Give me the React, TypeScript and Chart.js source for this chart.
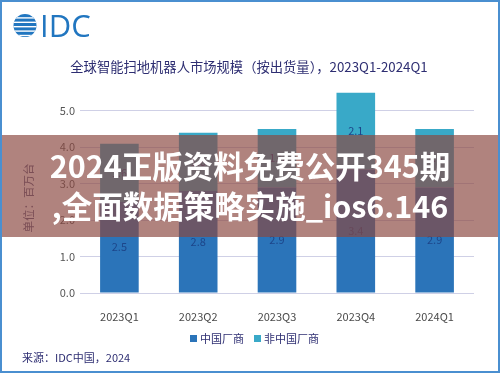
import React, { useEffect, useRef } from "react";
import { Chart, registerables } from "chart.js";

Chart.register(...registerables);

const categories = ["2023Q1", "2023Q2", "2023Q3", "2023Q4", "2024Q1"];
const chinaVendors = [2.5, 2.8, 2.9, 3.4, 2.9];
const nonChinaVendors = [1.6, 1.6, 1.6, 2.1, 1.6];
const yTicks = [0, 1, 2, 3, 4, 5];
const seriesNames = ["中国厂商", "非中国厂商"];
const seriesColors = ["#2b74b9", "#39a9c8"];
const titleText = "全球智能扫地机器人市场规模（按出货量），2023Q1-2024Q1";
const yTitle = "单位：百万台";
const sourceText = "来源：IDC中国，2024";
const overlayLines = ["2024正版资料免费公开345期", ",全面数据策略实施_ios6.146"];

const FONT = '"Noto Sans CJK SC", "Noto Sans", sans-serif';
const NAVY = "#2e2e72";

const decorPlugin = {
  id: "decor",
  beforeDraw(chart: any) {
    const ctx = chart.ctx as CanvasRenderingContext2D;
    ctx.save();
    ctx.fillStyle = "#ffffff";
    ctx.fillRect(0, 0, chart.width, chart.height);
    // IDC logo globe
    ctx.save();
    ctx.beginPath();
    ctx.arc(25, 25.5, 11.5, 0, Math.PI * 2);
    ctx.clip();
    ctx.fillStyle = "#2176c0";
    ctx.fillRect(12, 13, 27, 26);
    ctx.fillStyle = "#ffffff";
    for (let i = 0; i < 5; i++) {
      ctx.fillRect(12, 17.2 + i * 4.4, 27, 1.4);
    }
    ctx.restore();
    ctx.fillStyle = "#2176c0";
    ctx.font = '31px "Open Sans", sans-serif';
    ctx.textAlign = "left";
    ctx.textBaseline = "alphabetic";
    ctx.fillText("IDC", 40, 37);
    // Title
    ctx.fillStyle = NAVY;
    ctx.font = `13.3px ${FONT}`;
    ctx.textAlign = "center";
    ctx.textBaseline = "middle";
    ctx.fillText(titleText, 249, 67);
    // Y title
    ctx.save();
    ctx.translate(29, 198);
    ctx.rotate(-Math.PI / 2);
    ctx.fillStyle = "#5a5a80";
    ctx.font = `11.5px ${FONT}`;
    ctx.fillText(yTitle, 0, 0);
    ctx.restore();
    // Legend
    ctx.font = `11px ${FONT}`;
    ctx.textAlign = "left";
    ctx.textBaseline = "middle";
    const lx = [190, 254];
    seriesNames.forEach((n, i) => {
      ctx.fillStyle = seriesColors[i];
      ctx.fillRect(lx[i], 335, 7, 7);
      ctx.fillStyle = NAVY;
      ctx.fillText(n, lx[i] + 10, 338.5);
    });
    // Source
    ctx.fillStyle = NAVY;
    ctx.fillText(sourceText, 22, 358);
    ctx.restore();
  },
  afterDatasetsDraw(chart: any) {
    const ctx = chart.ctx as CanvasRenderingContext2D;
    ctx.save();
    ctx.fillStyle = "#1d468a";
    ctx.font = `11px ${FONT}`;
    ctx.textAlign = "center";
    ctx.textBaseline = "middle";
    chart.data.datasets.forEach((ds: any, di: number) => {
      const meta = chart.getDatasetMeta(di);
      meta.data.forEach((el: any, i: number) => {
        const p = el.getProps(["x", "y", "base"], true);
        ctx.fillText(Number(ds.data[i]).toFixed(1), p.x, (p.y + p.base) / 2);
      });
    });
    ctx.restore();
  },
  afterDraw(chart: any) {
    const ctx = chart.ctx as CanvasRenderingContext2D;
    ctx.save();
    ctx.fillStyle = "rgba(139,72,65,0.68)";
    ctx.fillRect(0, 135, chart.width, 102);
    ctx.fillStyle = "#ffffff";
    ctx.font = `bold 30.5px ${FONT}`;
    ctx.textAlign = "center";
    ctx.textBaseline = "middle";
    ctx.fillText(overlayLines[0], 250, 166);
    ctx.fillText(overlayLines[1], 250, 206);
    // border
    ctx.strokeStyle = "#4a8fd0";
    ctx.lineWidth = 2;
    ctx.strokeRect(1, 1, chart.width - 2, chart.height - 2);
    ctx.restore();
  },
};

export default function App() {
  const ref = useRef<HTMLCanvasElement | null>(null);
  useEffect(() => {
    document.body.style.margin = "0";
    const chart = new Chart(ref.current as HTMLCanvasElement, {
      type: "bar",
      data: {
        labels: categories,
        datasets: [
          {
            label: seriesNames[0],
            data: chinaVendors,
            backgroundColor: seriesColors[0],
            categoryPercentage: 0.98,
            barPercentage: 0.5,
          },
          {
            label: seriesNames[1],
            data: nonChinaVendors,
            backgroundColor: seriesColors[1],
            categoryPercentage: 0.98,
            barPercentage: 0.5,
          },
        ],
      },
      options: {
        animation: false,
        responsive: false,
        devicePixelRatio: 1,
        layout: { padding: { top: 89, right: 26, left: 0, bottom: 0 } },
        plugins: {
          legend: { display: false },
          tooltip: { enabled: false },
          title: { display: false },
        },
        scales: {
          x: {
            stacked: true,
            grid: { display: false },
            border: { display: false },
            ticks: {
              color: "#4a4a4a",
              font: { size: 11, family: FONT },
              padding: 9,
            },
            afterFit: (s: any) => {
              s.height = 80;
            },
          },
          y: {
            stacked: true,
            min: 0,
            max: 5.6,
            afterBuildTicks: (s: any) => {
              s.ticks = yTicks.map((v) => ({ value: v }));
            },
            grid: { color: "#cfd0e6", drawTicks: false, lineWidth: 1 },
            border: { display: false },
            ticks: {
              color: "#555555",
              font: { size: 11, family: FONT },
              padding: 5,
              callback: (v: any) => Number(v).toFixed(1),
            },
            afterFit: (s: any) => {
              s.width = 80;
            },
          },
        },
      },
      plugins: [decorPlugin],
    });
    return () => chart.destroy();
  }, []);
  return <canvas ref={ref} width={500} height={373} style={{ display: "block" }} />;
}
